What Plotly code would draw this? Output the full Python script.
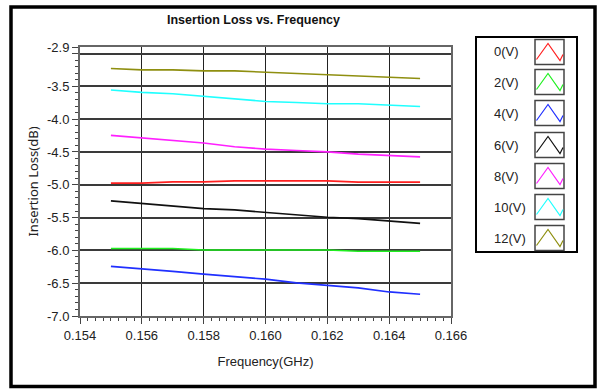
import plotly.graph_objects as go

freq = [0.155, 0.156, 0.157, 0.158, 0.159, 0.160, 0.161, 0.162, 0.163, 0.164, 0.165]
loss_0v = [-4.975, -4.975, -4.955, -4.955, -4.94, -4.94, -4.94, -4.94, -4.96, -4.96, -4.96]
loss_2v = [-5.972, -5.972, -5.972, -5.993, -5.993, -5.993, -5.993, -5.993, -6.013, -6.013, -6.013]
loss_4v = [-6.244, -6.279, -6.32, -6.361, -6.402, -6.438, -6.495, -6.535, -6.571, -6.633, -6.669]
loss_6v = [-5.245, -5.281, -5.322, -5.363, -5.383, -5.419, -5.46, -5.496, -5.516, -5.552, -5.588]
loss_8v = [-4.247, -4.288, -4.324, -4.364, -4.421, -4.457, -4.477, -4.498, -4.533, -4.554, -4.574]
loss_10v = [-3.555, -3.591, -3.612, -3.653, -3.689, -3.73, -3.745, -3.765, -3.765, -3.786, -3.806]
loss_12v = [-3.228, -3.248, -3.248, -3.264, -3.264, -3.284, -3.299, -3.320, -3.340, -3.361, -3.381]

series_names = ["0(V)", "2(V)", "4(V)", "6(V)", "8(V)", "10(V)", "12(V)"]
series_vals = [loss_0v, loss_2v, loss_4v, loss_6v, loss_8v, loss_10v, loss_12v]
series_colors = ["#ff2020", "#20f020", "#2030ff", "#111111", "#ff20ff", "#20ffff", "#8f8f10"]

x_ticks = [0.154, 0.156, 0.158, 0.160, 0.162, 0.164, 0.166]
x_ticktext = ["0.154", "0.156", "0.158", "0.160", "0.162", "0.164", "0.166"]
y_ticks = [-2.9, -3.0, -3.5, -4.0, -4.5, -5.0, -5.5, -6.0, -6.5, -7.0]
y_ticktext = ["-2.9", "", "-3.5", "-4.0", "-4.5", "-5.0", "-5.5", "-6.0", "-6.5", "-7.0"]

W, H = 602, 389
L, R, T, B = 80, 451, 47, 316
PW, PH = R - L, B - T


def px(x):
    return (x - L) / PW


def py(y):
    return (B - y) / PH


FONT = "Liberation Sans"

fig = go.Figure()
for name, vals, col in zip(series_names, series_vals, series_colors):
    fig.add_trace(go.Scatter(x=freq, y=vals, mode="lines", name=name,
                             line=dict(color=col, width=1.6), showlegend=False))

shapes = []
annotations = []
# outer border
shapes.append(dict(type="rect", xref="paper", yref="paper",
                   x0=px(11), x1=px(595), y0=py(7), y1=py(386.5),
                   line=dict(color="black", width=3.5), layer="above"))
# legend box
shapes.append(dict(type="rect", xref="paper", yref="paper",
                   x0=px(476), x1=px(577), y0=py(37), y1=py(252),
                   line=dict(color="black", width=2)))
row_y = [52, 82, 113, 145, 176, 207, 238]
for name, col, ry in zip(series_names, series_colors, row_y):
    bx0, bx1 = 535, 564
    by0, by1 = ry - 12.5, ry + 12.5
    shapes.append(dict(type="rect", xref="paper", yref="paper",
                       x0=px(bx0), x1=px(bx1), y0=py(by0), y1=py(by1),
                       line=dict(color="#444", width=1.5)))
    pts = [(bx0 + 1.5, by0 + 20), (bx0 + 13, by0 + 4), (bx0 + 25, by0 + 21), (bx1 - 1, by0 + 15)]
    path = "M " + " L ".join(f"{px(a):.5f},{py(b):.5f}" for a, b in pts)
    shapes.append(dict(type="path", xref="paper", yref="paper", path=path,
                       line=dict(color=col, width=1.2)))
    annotations.append(dict(text=name, xref="paper", yref="paper", x=px(492), y=py(ry),
                            xanchor="left", yanchor="middle", showarrow=False,
                            font=dict(family=FONT, size=13, color="#222")))

annotations.append(dict(text="<b>Insertion Loss vs. Frequency</b>", xref="paper", yref="paper",
                        x=px(253), y=py(20), xanchor="center", yanchor="middle",
                        showarrow=False, font=dict(family=FONT, size=12.5, color="#111")))

fig.update_layout(
    width=W, height=H,
    margin=dict(l=L, r=W - R, t=T, b=H - B, pad=0),
    paper_bgcolor="white", plot_bgcolor="white",
    shapes=shapes, annotations=annotations,
    font=dict(family=FONT, size=12, color="#222"),
    xaxis=dict(range=[0.154, 0.166], tickvals=x_ticks, ticktext=x_ticktext,
               showgrid=True, gridcolor="#222", gridwidth=1.2,
               showline=True, linecolor="#666", linewidth=2, mirror=True,
               ticks="outside", ticklen=6, tickcolor="#444", tickwidth=1,
               minor=dict(dtick=0.00025, tick0=0.154, ticks="outside", ticklen=3,
                          tickcolor="#444", showgrid=False),
               tickfont=dict(family=FONT, size=13, color="#222"),
               title=dict(text="Frequency(GHz)", font=dict(family=FONT, size=13, color="#222"),
                          standoff=15),
               zeroline=False),
    yaxis=dict(range=[-7.0, -2.9], tickvals=y_ticks, ticktext=y_ticktext,
               showgrid=True, gridcolor="#3a3a3a", gridwidth=1.5,
               showline=True, linecolor="#666", linewidth=2, mirror=True,
               ticks="outside", ticklen=6, tickcolor="#444", tickwidth=1,
               minor=dict(dtick=0.1, tick0=-7.0, ticks="outside", ticklen=3,
                          tickcolor="#444", showgrid=False),
               tickfont=dict(family=FONT, size=13, color="#222"),
               title=dict(text="Insertion Loss(dB)", font=dict(family="Noto Sans", size=13, color="#222"),
                          standoff=5),
               zeroline=False),
)

fig.write_html("out.html", config={"displayModeBar": False},
               post_script="document.body.style.margin='0';document.body.style.overflow='hidden';")
